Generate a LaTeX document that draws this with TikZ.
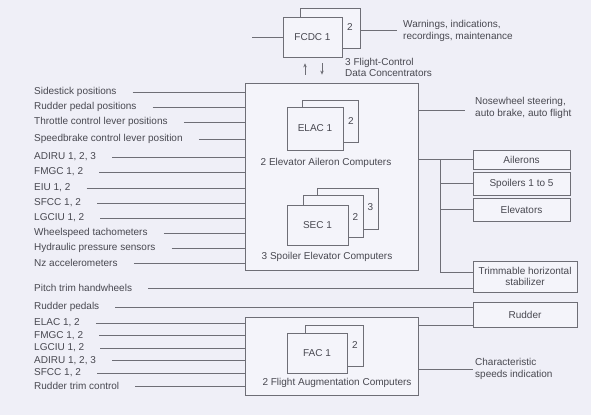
\documentclass[tikz,border=0pt]{standalone}
\usepackage{fontspec}
\setmainfont{Liberation Sans}
\usetikzlibrary{arrows.meta,calc}
\definecolor{bg}{RGB}{239,239,247}
\definecolor{ln}{RGB}{110,110,118}
\definecolor{tx}{RGB}{72,72,80}
\definecolor{boxfill}{RGB}{244,244,250}
\begin{document}
\begin{tikzpicture}[x=1pt,y=-1pt,
  font=\fontsize{10}{11.5}\selectfont,
  lbl/.style={anchor=west,inner sep=0pt,text=tx},
  capt/.style={inner sep=0pt,text=tx},
  wire/.style={draw=ln,line width=0.7pt},
  arr/.style={wire,-{Stealth[length=4pt,width=3.5pt]}},
  unit/.style={draw=ln,fill=boxfill,line width=0.7pt,inner sep=0pt,text=tx},
  bigbox/.style={draw=ln,fill=boxfill,line width=0.8pt,inner sep=0pt},
  outbox/.style={draw=ln,fill=boxfill,line width=0.7pt,inner sep=0pt,text=tx,align=center}]
\fill[bg] (0,0) rectangle (591,415);
\useasboundingbox (0,0) rectangle (591,415);

% ---------- FCDC ----------
\node[unit,minimum width=60pt,minimum height=40pt] (fcdcb) at (330,28) {};
\node[capt] (fcdc2) at (350,27) {2};
\node[unit,minimum width=59pt,minimum height=40pt] (fcdc) at (312.5,37) {FCDC 1};
\node[capt,anchor=west,align=left,font=\fontsize{10}{10.5}\selectfont] (fcdcl) at (345,67.5) {3 Flight-Control\\Data Concentrators};
\coordinate (fin) at (252,37);
\draw[wire] (fin) -- (fcdc.west);
\node[lbl,align=left,font=\fontsize{10}{12.5}\selectfont] (warn) at (403,31) {Warnings, indications,\\recordings, maintenance};
\draw[wire] (fcdcb.east |- 0,30) -- ([xshift=-6pt]warn.west |- 0,30);

% ---------- ELAC / SEC ----------
\node[bigbox,minimum width=173pt,minimum height=187pt] (main) at (331.5,176.5) {};
\node[unit,minimum width=56pt,minimum height=42pt] (elacb) at (330,121) {};
\node[capt] (elac2) at (351,121) {2};
\node[unit,minimum width=56pt,minimum height=43pt] (elac) at (315,128.5) {ELAC 1};
\node[capt] (elacl) at (326,163) {2 Elevator Aileron Computers};

\node[unit,minimum width=61pt,minimum height=41pt] (sec3) at (347.5,208.5) {};
\node[capt] (sec3l) at (370.5,207) {3};
\node[unit,minimum width=60pt,minimum height=42pt] (sec2) at (333,216) {};
\node[capt] (sec2l) at (355.5,217) {2};
\node[unit,minimum width=61pt,minimum height=40pt] (sec) at (317.5,225) {SEC 1};
\node[capt] (secl) at (327,257) {3 Spoiler Elevator Computers};

% arrows FCDC <-> ELAC/SEC
\coordinate (a1) at (305,0);
\coordinate (a2) at (322,0);
\draw[arr,shorten <=8pt,shorten >=6pt] (main.north -| a1) -- (fcdc.south -| a1);
\draw[arr,shorten <=6pt,shorten >=8pt] (fcdc.south -| a2) -- (main.north -| a2);

% ---------- FAC ----------
\node[bigbox,minimum width=173pt,minimum height=78pt] (fac) at (331.5,356) {};
\node[unit,minimum width=58pt,minimum height=41pt] (facb) at (334,345.5) {};
\node[capt] (fac2) at (355,345) {2};
\node[unit,minimum width=60pt,minimum height=40pt] (fac1) at (317,353) {FAC 1};
\node[capt] (facl) at (337,383) {2 Flight Augmentation Computers};

% ---------- outputs ----------
\node[outbox,minimum width=97pt,minimum height=19pt] (ail) at (521.5,159.5) {Ailerons};
\node[outbox,minimum width=97pt,minimum height=23pt] (spo) at (521.5,183.5) {Spoilers 1 to 5};
\node[outbox,minimum width=97pt,minimum height=23pt] (ele) at (521.5,209.5) {Elevators};
\node[outbox,minimum width=104pt,minimum height=31pt] (ths) at (525,276.5) {Trimmable horizontal\\stabilizer};
\node[outbox,minimum width=104pt,minimum height=25pt] (rud) at (525,314.5) {Rudder};
\node[lbl,align=left] (nose) at (475,108) {Nosewheel steering,\\auto brake, auto flight};
\node[lbl,align=left] (cs) at (475,369) {Characteristic\\speeds indication};

\coordinate (bus) at (440,0);
\draw[wire] (main.east |- 0,110) -- ([xshift=-10pt]nose.west |- 0,110);
\draw[wire] (main.east |- ail.west) -- (ail.west);
\draw[wire] (bus |- ail.west) |- ($(ths.west)+(0,-4)$);
\draw[wire] (bus |- spo.west) -- (spo.west);
\draw[wire] (bus |- ele.west) -- (ele.west);
\coordinate (ry) at ($(rud.west)+(0,10.5)$);
\draw[wire] (fac.east |- ry) -- (ry);
\draw[wire] (fac.east |- cs.west) -- ([xshift=-2pt]cs.west);

% ---------- inputs ELAC/SEC ----------
\foreach \n/\y/\t in {a/92/{Sidestick positions},
  b/107/{Rudder pedal positions},
  c/122/{Throttle control lever positions},
  d/139/{Speedbrake control lever position},
  e/157/{ADIRU 1, 2, 3},
  f/172/{FMGC 1, 2},
  g/188/{EIU 1, 2},
  h/203/{SFCC 1, 2},
  i/218/{LGCIU 1, 2},
  j/233/{Wheelspeed tachometers},
  k/248/{Hydraulic pressure sensors},
  l/263/{Nz accelerometers}}{
  \node[lbl] (in\n) at (34,\y) {\t};
  \draw[wire] ([xshift=16pt]in\n.east) -- (in\n.east -| main.west);
}

% ---------- inputs to THS / rudder ----------
\node[lbl] (pth) at (34,288) {Pitch trim handwheels};
\draw[wire] ([xshift=16pt]pth.east) -- (pth.east -| ths.west);
\node[lbl] (rpd) at (34,307) {Rudder pedals};
\draw[wire] ([xshift=16pt]rpd.east) -- (rpd.east -| rud.west);

% ---------- inputs FAC ----------
\foreach \n/\y/\t in {a/323/{ELAC 1, 2},
  b/335.5/{FMGC 1, 2},
  c/348/{LGCIU 1, 2},
  d/360.5/{ADIRU 1, 2, 3},
  e/373/{SFCC 1, 2},
  f/386/{Rudder trim control}}{
  \node[lbl] (fi\n) at (34,\y) {\t};
  \draw[wire] ([xshift=16pt]fi\n.east) -- (fi\n.east -| fac.west);
}
\end{tikzpicture}
\end{document}
